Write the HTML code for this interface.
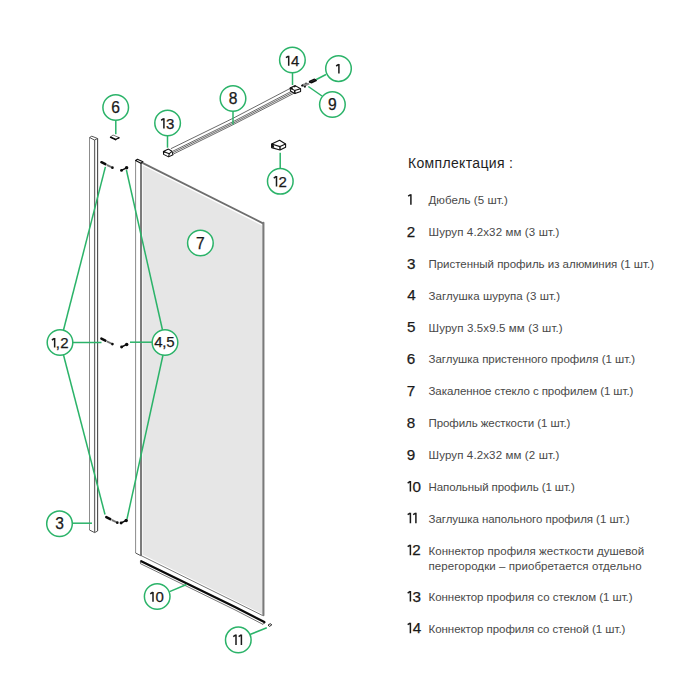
<!DOCTYPE html>
<html><head><meta charset="utf-8">
<style>
html,body{margin:0;padding:0;background:#fff;}
body{width:700px;height:700px;position:relative;overflow:hidden;}
svg{position:absolute;left:0;top:0;font-family:"Liberation Sans",sans-serif;}
</style></head><body>
<svg width="700" height="700" viewBox="0 0 700 700">
<!-- glass -->
<polygon points="142.6,165.6 262.4,225.8 262.4,613.9 142.6,554.6" fill="#e6e6e6"/>
<line x1="142.4" y1="162.9" x2="263.5" y2="223.6" stroke="#6e6e6e" stroke-width="1.8"/>
<line x1="263.4" y1="222.8" x2="263.4" y2="615.3" stroke="#7a7a7a" stroke-width="2.1" stroke-linecap="round"/>
<line x1="140.7" y1="555.4" x2="262.6" y2="615.5" stroke="#666" stroke-width="0.9"/>
<!-- glass profile -->
<g fill="none" stroke-linejoin="round">
<line x1="135.6" y1="160.6" x2="135.6" y2="553" stroke="#8c8c8c" stroke-width="1"/>
<line x1="141" y1="163" x2="141" y2="555.5" stroke="#5a5a5a" stroke-width="1.6"/>
<polygon points="135.6,160.5 137.5,159.3 142.9,161.7 140.9,163.3" stroke="#111" stroke-width="1.2" fill="#fff"/>
<polyline points="135.6,553 140.6,555.6 141.6,555" stroke="#555" stroke-width="1"/>
</g>
<!-- wall profile -->
<g fill="none">
<line x1="89.5" y1="137.6" x2="89.5" y2="530" stroke="#8c8c8c" stroke-width="1"/>
<line x1="94.6" y1="140" x2="94.6" y2="532.5" stroke="#6a6a6a" stroke-width="1.25"/>
<line x1="97.6" y1="138.6" x2="97.6" y2="531" stroke="#4a4a4a" stroke-width="1.1"/>
<polygon points="89.6,137.5 91.8,136.2 97.6,138.5 94.4,140" stroke="#444" stroke-width="0.9" fill="#fff"/>
<polyline points="89.5,530 94.6,532.6 97.6,531" stroke="#555" stroke-width="1"/>
</g>
<!-- floor profile -->
<polyline points="141.2,561.3 235,607 264.3,622.1" stroke="#0a0a0a" stroke-width="2.3" fill="none" stroke-linecap="round"/>
<polyline points="140.5,563.7 235,609.9 263,624.4" stroke="#666" stroke-width="0.9" fill="none"/>
<line x1="140.4" y1="561.2" x2="140.5" y2="563.7" stroke="#555" stroke-width="0.9"/>
<line x1="263" y1="624.4" x2="264.8" y2="622.6" stroke="#333" stroke-width="1"/>
<!-- end cap 11 -->
<polygon points="268,625.2 270.2,623.7 271.8,624.8 269.6,626.4" fill="#fff" stroke="#222" stroke-width="1"/>
<!-- bar 8 -->
<g stroke="#505050" stroke-width="0.85" fill="none">
<polyline points="170.9,148.7 233,118.3 290.2,88.4"/>
<polyline points="173,151.1 233,121.7 293,90.5"/>
<polyline points="173,152.6 233,123.2 294,91.6"/>
<polyline points="173.3,154.1 233,124.7 294.5,93"/>
</g>
<!-- connector 13 -->
<g stroke="#111" stroke-width="1.05" fill="#fff" stroke-linejoin="round">
<polygon points="163.4,151.4 168.4,149.1 172,151.3 173,154.8 168.6,156.9 163.6,154.4"/>
<polyline points="163.4,151.4 169.3,153.7 172,151.3" fill="none"/>
<line x1="169.3" y1="153.7" x2="168.6" y2="156.9"/>
<polygon points="163.4,151.4 164.8,150.7 165.6,152.3 163.6,153" fill="#111" stroke="none"/>
</g>
<!-- connector 14 -->
<g stroke="#111" stroke-width="1.05" fill="#fff" stroke-linejoin="round">
<polygon points="290.1,88 295.2,85.6 300.6,88.7 300.6,91.4 295,93.6 290.5,91"/>
<polyline points="290.1,88 294.6,90.4 300.6,88.7" fill="none"/>
<line x1="294.6" y1="90.4" x2="295" y2="93.6" stroke-width="1.5"/>
<polygon points="290.1,88 292.2,87 293,89.3 290.4,89.6" fill="#111" stroke="none"/>
<polygon points="293.3,86.7 295.2,85.6 296.2,86.4 294,87.6" fill="#111" stroke="none"/>
</g>
<!-- screw 9 -->
<polygon points="301.2,85 303.8,83.6 308.6,82.7 309.8,84.2 305.5,86.3 303,86.8" fill="#8a8a8a"/>
<polygon points="301,85.2 302.8,84.3 303.6,86 301.8,86.8" fill="#111"/>
<polygon points="303.8,86.2 305.6,85.6 306,87.2 304.3,87.8" fill="#111"/>
<polygon points="305.2,82.8 306.6,82.4 306.8,83.6 305.4,84" fill="#333"/>
<!-- dowel 1 top -->
<polygon points="308.8,81 314.2,78.5 316.9,79.6 316.9,81 311.6,83.6 309.1,82.8" fill="#0a0a0a"/>
<line x1="310.6" y1="81.7" x2="315.4" y2="79.7" stroke="#555" stroke-width="0.5"/>
<!-- connector 12 -->
<g stroke="#111" stroke-width="1.1" fill="#fff" stroke-linejoin="round">
<polygon points="271.6,144 279.6,140.2 285.6,144 285.6,147.2 280,150 271.6,147.6"/>
<polyline points="271.6,144 280,146.6 285.6,144" fill="none"/>
<line x1="280" y1="146.6" x2="280" y2="150" stroke-width="1.4"/>
<polygon points="271.6,144 273.4,143.2 274.2,147.8 271.6,147.6" fill="#111" stroke="none"/>
</g>
<!-- cap 6 -->
<polygon points="110.5,137 113,135 119.4,137.7 115.6,139.6" fill="#fff" stroke="#666" stroke-width="0.9" stroke-linejoin="round"/>
<line x1="110.7" y1="137.3" x2="115.6" y2="139.5" stroke="#0a0a0a" stroke-width="1.7" stroke-linecap="round"/>
<line x1="115.8" y1="139.3" x2="119.3" y2="137.8" stroke="#111" stroke-width="1.2"/>
<polygon points="117.6,137.1 119.6,137.7 118.2,138.8" fill="#111"/>
<!-- dowels & screws -->
<line x1="101.4" y1="162.2" x2="105.4" y2="164.2" stroke="#0c0c0c" stroke-width="2.5" stroke-linecap="round"/>
<line x1="106.9" y1="165.0" x2="111.5" y2="167.2" stroke="#8a8a8a" stroke-width="2"/>
<line x1="106.9" y1="165.0" x2="111.5" y2="167.2" stroke="#444" stroke-width="0.5"/>
<circle cx="112.4" cy="167.7" r="1.35" fill="#0c0c0c"/>
<line x1="121.5" y1="170.4" x2="126.6" y2="167.8" stroke="#0c0c0c" stroke-width="1.5"/>
<circle cx="121.5" cy="170.4" r="1.45" fill="#0c0c0c"/>
<circle cx="126.6" cy="167.8" r="1.75" fill="#0c0c0c"/>
<line x1="101.4" y1="338.6" x2="105.4" y2="340.6" stroke="#0c0c0c" stroke-width="2.5" stroke-linecap="round"/>
<line x1="106.9" y1="341.4" x2="111.5" y2="343.6" stroke="#8a8a8a" stroke-width="2"/>
<line x1="106.9" y1="341.4" x2="111.5" y2="343.6" stroke="#444" stroke-width="0.5"/>
<circle cx="112.4" cy="344.1" r="1.35" fill="#0c0c0c"/>
<line x1="121.6" y1="347.0" x2="126.7" y2="344.4" stroke="#0c0c0c" stroke-width="1.5"/>
<circle cx="121.6" cy="347.0" r="1.45" fill="#0c0c0c"/>
<circle cx="126.7" cy="344.4" r="1.75" fill="#0c0c0c"/>
<line x1="106.3" y1="517.1" x2="110.3" y2="519.2" stroke="#0c0c0c" stroke-width="2.5" stroke-linecap="round"/>
<line x1="111.8" y1="520.0" x2="116.4" y2="522.2" stroke="#8a8a8a" stroke-width="2"/>
<line x1="111.8" y1="520.0" x2="116.4" y2="522.2" stroke="#444" stroke-width="0.5"/>
<circle cx="117.3" cy="522.7" r="1.35" fill="#0c0c0c"/>
<line x1="121.1" y1="523.0" x2="126.2" y2="520.4" stroke="#0c0c0c" stroke-width="1.5"/>
<circle cx="121.1" cy="523.0" r="1.45" fill="#0c0c0c"/>
<circle cx="126.2" cy="520.4" r="1.75" fill="#0c0c0c"/>

<g stroke="#2bb369" stroke-width="1.5" fill="none">
<line x1="292.5" y1="72.5" x2="292.5" y2="85"/>
<line x1="326" y1="74.5" x2="316.3" y2="79.5"/>
<line x1="322" y1="96" x2="308.3" y2="86.5"/>
<line x1="233" y1="111" x2="233" y2="124.5"/>
<line x1="167.5" y1="135.6" x2="167.5" y2="147.7"/>
<line x1="115.8" y1="120" x2="115.8" y2="134.2"/>
<line x1="280.2" y1="152.8" x2="280.2" y2="168.7"/>
<line x1="63.5" y1="330" x2="105.4" y2="166.9"/>
<line x1="63.5" y1="355" x2="105" y2="514.5"/>
<line x1="72.6" y1="342.5" x2="101.5" y2="342.5"/>
<line x1="162.5" y1="330" x2="126.4" y2="170"/>
<line x1="163" y1="355" x2="127" y2="519"/>
<line x1="130" y1="342.2" x2="152.4" y2="342.2"/>
<line x1="72" y1="523.2" x2="92" y2="523.2"/>
<line x1="169.6" y1="591.6" x2="186.5" y2="584.5"/>
<line x1="250" y1="634.5" x2="266.8" y2="627.8"/>
</g>
<g stroke="#2bb369" stroke-width="1.5" fill="#fff">
<circle cx="292.4" cy="60" r="12.8"/>
<circle cx="338.5" cy="68.6" r="12.8"/>
<circle cx="332.4" cy="104.5" r="12.8"/>
<circle cx="233" cy="98.5" r="12.8"/>
<circle cx="167.6" cy="123" r="12.8"/>
<circle cx="115.7" cy="107.5" r="12.8"/>
<circle cx="280.3" cy="181.3" r="12.8"/>
<circle cx="200.4" cy="243" r="12.8"/>
<circle cx="60" cy="342.5" r="12.8"/>
<circle cx="165" cy="342.5" r="12.8"/>
<circle cx="59.5" cy="523.7" r="12.8"/>
<circle cx="157.2" cy="596.5" r="12.8"/>
<circle cx="238.3" cy="639.9" r="12.8"/>
</g>
<g>
<path d="M285.95 57.70 L288.50 56.05 M288.70 55.70 V65.70" stroke="#1a1a1a" stroke-width="1.5" fill="none" stroke-linejoin="miter"/>
<text x="290.91" y="65.70" font-size="15" fill="#1a1a1a" stroke="#1a1a1a" stroke-width="0.25">4</text>
<path d="M336.15 66.00 L338.70 64.35 M338.90 64.00 V73.60" stroke="#1a1a1a" stroke-width="1.5" fill="none" stroke-linejoin="miter"/>
<text x="328.07" y="109.70" font-size="15.6" fill="#1a1a1a" stroke="#1a1a1a" stroke-width="0.25">9</text>
<text x="228.66" y="103.90" font-size="15.6" fill="#1a1a1a" stroke="#1a1a1a" stroke-width="0.25">8</text>
<path d="M161.15 120.25 L163.70 118.60 M163.90 118.25 V128.50" stroke="#1a1a1a" stroke-width="1.5" fill="none" stroke-linejoin="miter"/>
<text x="166.03" y="128.50" font-size="15" fill="#1a1a1a" stroke="#1a1a1a" stroke-width="0.25">3</text>
<text x="111.31" y="113.00" font-size="15.6" fill="#1a1a1a" stroke="#1a1a1a" stroke-width="0.25">6</text>
<path d="M273.75 178.10 L276.30 176.45 M276.50 176.10 V186.50" stroke="#1a1a1a" stroke-width="1.5" fill="none" stroke-linejoin="miter"/>
<text x="278.45" y="186.50" font-size="15" fill="#1a1a1a" stroke="#1a1a1a" stroke-width="0.25">2</text>
<text x="196.05" y="248.60" font-size="15.6" fill="#1a1a1a" stroke="#1a1a1a" stroke-width="0.25">7</text>
<path d="M51.90 340.00 L54.45 338.35 M54.65 338.00 V347.60" stroke="#1a1a1a" stroke-width="1.5" fill="none" stroke-linejoin="miter"/>
<text x="55.65" y="347.60" font-size="15" fill="#1a1a1a" stroke="#1a1a1a" stroke-width="0.25">,</text>
<text x="60.35" y="347.60" font-size="15" fill="#1a1a1a" stroke="#1a1a1a" stroke-width="0.25">2</text>
<text x="154.16" y="347.3" font-size="15" fill="#1a1a1a" stroke="#1a1a1a" stroke-width="0.25" textLength="20.4" lengthAdjust="spacing">4,5</text>
<text x="55.21" y="528.90" font-size="15.6" fill="#1a1a1a" stroke="#1a1a1a" stroke-width="0.25">3</text>
<path d="M150.25 593.90 L152.80 592.25 M153.00 591.90 V601.80" stroke="#1a1a1a" stroke-width="1.5" fill="none" stroke-linejoin="miter"/>
<text x="155.61" y="601.80" font-size="15" fill="#1a1a1a" stroke="#1a1a1a" stroke-width="0.25">0</text>
<path d="M233.25 636.60 L235.80 634.95 M236.00 634.60 V645.00" stroke="#1a1a1a" stroke-width="1.5" fill="none" stroke-linejoin="miter"/>
<path d="M238.65 636.60 L241.20 634.95 M241.40 634.60 V645.00" stroke="#1a1a1a" stroke-width="1.5" fill="none" stroke-linejoin="miter"/>
</g>
<text x="408" y="167.8" font-size="14" fill="#1e1e1e" textLength="105" lengthAdjust="spacing">Комплектация :</text>
<path d="M408.15 196.21 L410.70 194.56 M410.90 194.21 V204.70" stroke="#1a1a1a" stroke-width="1.5" fill="none" stroke-linejoin="miter"/>
<text x="406.74" y="236.70" font-size="15.2" fill="#1a1a1a" stroke="#1a1a1a" stroke-width="0.25">2</text>
<text x="406.92" y="268.50" font-size="15.2" fill="#1a1a1a" stroke="#1a1a1a" stroke-width="0.25">3</text>
<text x="407.15" y="300.30" font-size="15.2" fill="#1a1a1a" stroke="#1a1a1a" stroke-width="0.25">4</text>
<text x="406.89" y="332.10" font-size="15.2" fill="#1a1a1a" stroke="#1a1a1a" stroke-width="0.25">5</text>
<text x="406.73" y="363.80" font-size="15.2" fill="#1a1a1a" stroke="#1a1a1a" stroke-width="0.25">6</text>
<text x="406.72" y="395.60" font-size="15.2" fill="#1a1a1a" stroke="#1a1a1a" stroke-width="0.25">7</text>
<text x="406.84" y="427.80" font-size="15.2" fill="#1a1a1a" stroke="#1a1a1a" stroke-width="0.25">8</text>
<text x="406.79" y="459.70" font-size="15.2" fill="#1a1a1a" stroke="#1a1a1a" stroke-width="0.25">9</text>
<path d="M407.65 483.01 L410.20 481.36 M410.40 481.01 V491.50" stroke="#1a1a1a" stroke-width="1.5" fill="none" stroke-linejoin="miter"/>
<text x="412.41" y="491.50" font-size="15.2" fill="#1a1a1a" stroke="#1a1a1a" stroke-width="0.25">0</text>
<path d="M407.65 514.71 L410.20 513.06 M410.40 512.71 V523.20" stroke="#1a1a1a" stroke-width="1.5" fill="none" stroke-linejoin="miter"/>
<path d="M413.15 514.71 L415.70 513.06 M415.90 512.71 V523.20" stroke="#1a1a1a" stroke-width="1.5" fill="none" stroke-linejoin="miter"/>
<path d="M407.65 546.71 L410.20 545.06 M410.40 544.71 V555.20" stroke="#1a1a1a" stroke-width="1.5" fill="none" stroke-linejoin="miter"/>
<text x="412.24" y="555.20" font-size="15.2" fill="#1a1a1a" stroke="#1a1a1a" stroke-width="0.25">2</text>
<path d="M407.65 593.01 L410.20 591.36 M410.40 591.01 V601.50" stroke="#1a1a1a" stroke-width="1.5" fill="none" stroke-linejoin="miter"/>
<text x="412.42" y="601.50" font-size="15.2" fill="#1a1a1a" stroke="#1a1a1a" stroke-width="0.25">3</text>
<path d="M407.65 624.71 L410.20 623.06 M410.40 622.71 V633.20" stroke="#1a1a1a" stroke-width="1.5" fill="none" stroke-linejoin="miter"/>
<text x="412.65" y="633.20" font-size="15.2" fill="#1a1a1a" stroke="#1a1a1a" stroke-width="0.25">4</text>
<g font-size="11.5" fill="#484848">
<text x="428.5" y="204.2" textLength="79.4" lengthAdjust="spacing">Дюбель (5 шт.)</text>
<text x="428.5" y="236.2" textLength="130.8" lengthAdjust="spacing">Шуруп 4.2х32 мм (3 шт.)</text>
<text x="428.5" y="268.0" textLength="225.5" lengthAdjust="spacing">Пристенный профиль из алюминия (1 шт.)</text>
<text x="428.5" y="299.8" textLength="131.6" lengthAdjust="spacing">Заглушка шурупа (3 шт.)</text>
<text x="428.5" y="331.6" textLength="134.2" lengthAdjust="spacing">Шуруп 3.5х9.5 мм (3 шт.)</text>
<text x="428.5" y="363.3" textLength="206.7" lengthAdjust="spacing">Заглушка пристенного профиля (1 шт.)</text>
<text x="428.5" y="395.1" textLength="204.9" lengthAdjust="spacing">Закаленное стекло с профилем (1 шт.)</text>
<text x="428.5" y="427.3" textLength="141.9" lengthAdjust="spacing">Профиль жесткости (1 шт.)</text>
<text x="428.5" y="459.2" textLength="130.8" lengthAdjust="spacing">Шуруп 4.2х32 мм (2 шт.)</text>
<text x="428.5" y="491.0" textLength="146.3" lengthAdjust="spacing">Напольный профиль (1 шт.)</text>
<text x="428.5" y="522.7" textLength="201.0" lengthAdjust="spacing">Заглушка напольного профиля (1 шт.)</text>
<text x="428.5" y="554.7" textLength="215.7" lengthAdjust="spacing">Коннектор профиля жесткости душевой</text>
<text x="428.5" y="601.0" textLength="204.1" lengthAdjust="spacing">Коннектор профиля со стеклом (1 шт.)</text>
<text x="428.5" y="632.7" textLength="196.9" lengthAdjust="spacing">Коннектор профиля со стеной (1 шт.)</text>
<text x="428.5" y="569.6" textLength="213.1" lengthAdjust="spacing">перегородки – приобретается отдельно</text>
</g>
</svg>
</body></html>
